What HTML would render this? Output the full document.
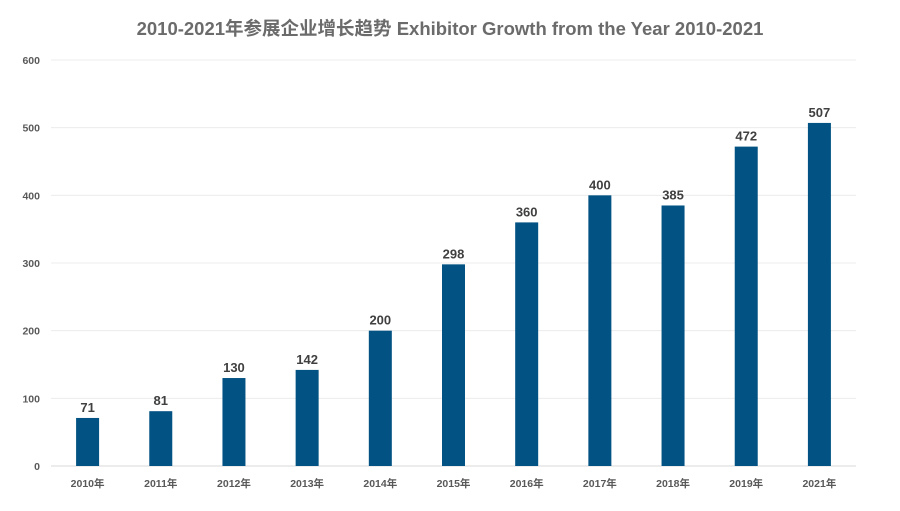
<!DOCTYPE html>
<html><head><meta charset="utf-8"><style>
body{margin:0;background:#fff;width:900px;height:506px;overflow:hidden}
svg text{font-family:"Liberation Sans","Noto Sans CJK SC",sans-serif}
</style></head><body>
<svg id="chart" width="900" height="506">
<text x="450" y="35" text-anchor="middle" font-size="18.5" font-weight="bold" fill="#6b6b6b">2010-2021年参展企业增长趋势 Exhibitor Growth from the Year 2010-2021</text>
<g id="grid"></g><g id="bars"></g>
</svg>
<script>
const categories=["2010年","2011年","2012年","2013年","2014年","2015年","2016年","2017年","2018年","2019年","2021年"];
const values=[71,81,130,142,200,298,360,400,385,472,507];
const yTicks=[0,100,200,300,400,500,600];
const NS="http://www.w3.org/2000/svg";
const x0=51,x1=856,yBase=466,yTop=60,yMax=600;
const band=(x1-x0)/categories.length;
const y=v=>yBase-(v/yMax)*(yBase-yTop);
const xc=i=>x0+band*(i+0.5);
function mk(t,a,p){const e=document.createElementNS(NS,t);for(const k in a)e.setAttribute(k,a[k]);p.appendChild(e);return e;}
const g=document.getElementById('grid'),b=document.getElementById('bars');
yTicks.forEach(t=>{
 const l=mk('line',{x1:x0,x2:x1,y1:y(t),y2:y(t),stroke:t===0?'#d9d9d9':'#ececec','stroke-width':1},g);
 
 
 const tx=mk('text',{x:40,y:y(t)+4,'text-anchor':'end','font-size':10.5,'font-weight':'bold',fill:'#595959'},g);
 tx.textContent=t;
 
 
});
categories.forEach((c,i)=>{
 const w=23;
 const r=mk('rect',{x:xc(i)-w/2,y:y(values[i]),width:w,height:yBase-y(values[i]),fill:'#025283'},b);
 
 
 const v=mk('text',{x:xc(i),y:y(values[i])-6,'text-anchor':'middle','font-size':13,'font-weight':'bold',fill:'#404040'},b);
 v.textContent=values[i];
 
 
 const l=mk('text',{x:xc(i),y:487,'text-anchor':'middle','font-size':10.5,'font-weight':'bold',fill:'#595959'},b);
 l.textContent=c;
 
 
});
</script>
</body></html>
